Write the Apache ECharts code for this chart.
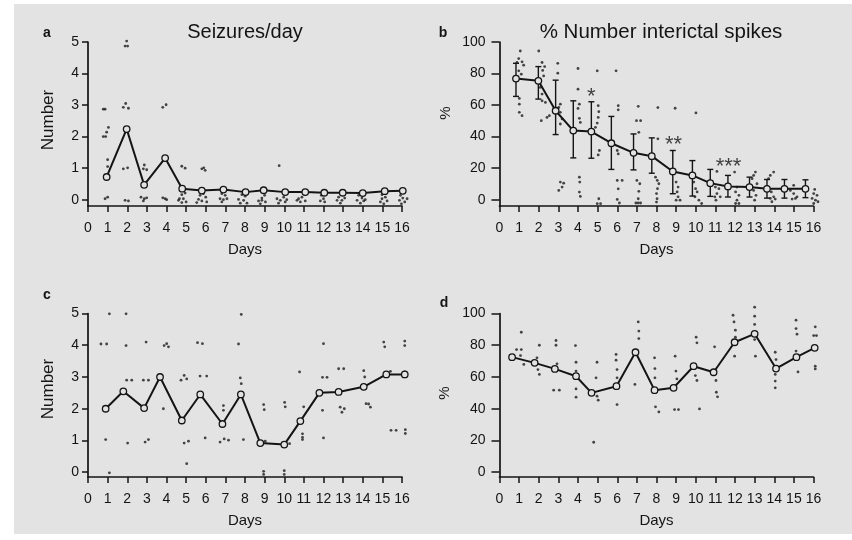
<!DOCTYPE html>
<html>
<head>
<meta charset="utf-8">
<script src="https://cdn.jsdelivr.net/npm/echarts@6/dist/echarts.min.js"></script>
<style>
  html, body { margin: 0; padding: 0; background: #fff; }
  #wrap { position: relative; width: 852px; height: 540px; }
  #paper { position: absolute; left: 14px; top: 4px; width: 838px; height: 530px; background: #e3e3e3; }
  #chart { position: absolute; left: 0; top: 0; width: 852px; height: 540px; }
</style>
</head>
<body>
<div id="wrap">
<div id="paper"></div>
<div id="chart"></div>
</div>
<script>
// y ticks
const numberTicks = [0, 1, 2, 3, 4, 5]
const percentTicks = [0, 20, 40, 60, 80, 100]

// a: seizures/day
const meanDaysA = [0.95, 1.97, 2.86, 3.93, 4.8, 5.8, 6.9, 8.03, 8.95, 10.05, 11.07, 12.04, 12.98, 14.0, 15.12, 16.04]
const meanA = [0.72, 2.24, 0.47, 1.32, 0.35, 0.29, 0.32, 0.24, 0.3, 0.24, 0.24, 0.22, 0.22, 0.21, 0.27, 0.28]
const dotsA = [
    [1.89, 4.87], [2.02, 4.87], [1.97, 5.03], [0.78, 2.87], [0.87, 2.87],
    [1.8, 2.93], [2.06, 2.9], [1.92, 3.05], [3.81, 2.93], [3.98, 3.01],
    [1.04, 2.29], [0.95, 2.14], [0.78, 2.0], [0.9, 2.0], [1.0, 1.27], [1.0, 1.05],
    [1.8, 0.98], [2.02, 1.01], [2.87, 1.1], [2.99, 0.95], [2.82, 0.98],
    [4.78, 1.06], [4.95, 1.0], [5.8, 0.98], [5.97, 0.93], [5.9, 1.01], [9.74, 1.08],
    [0.87, 0.03], [1.0, 0.08], [1.89, -0.02], [2.06, -0.04],
    [2.7, 0.08], [2.87, 0.03], [2.99, 0.06], [2.82, -0.04],
    [3.81, 0.06], [3.93, 0.03], [4.01, 0.0],
    [4.78, 0.16], [4.95, 0.21], [4.66, 0.03], [4.86, 0.03], [5.0, -0.07], [4.78, -0.09], [4.61, -0.02],
    [5.71, 0.14], [5.88, 0.19], [6.0, 0.08], [5.63, 0.01], [5.8, -0.04], [6.05, -0.07], [5.54, -0.09],
    [6.82, 0.19], [6.99, 0.14], [6.73, 0.03], [6.9, 0.0], [7.08, 0.03], [6.82, -0.07],
    [7.84, 0.16], [8.01, 0.11], [7.67, 0.01], [7.93, -0.02], [7.76, -0.11], [8.1, -0.11],
    [8.69, -0.04], [8.86, 0.05], [9.0, 0.14], [8.78, -0.13], [9.04, -0.07], [8.86, -0.02],
    [9.63, 0.03], [9.8, -0.02], [9.97, 0.08], [10.05, -0.07], [9.71, -0.11], [10.13, 0.0],
    [10.73, 0.03], [10.9, 0.08], [11.04, 0.16], [10.82, -0.07], [11.07, -0.04], [10.65, -0.02],
    [11.89, 0.14], [12.0, 0.03], [11.84, -0.04], [12.06, -0.07],
    [12.77, 0.08], [12.98, 0.16], [12.69, -0.02], [12.94, -0.02], [12.86, -0.11], [13.08, 0.05],
    [13.79, 0.14], [13.96, 0.05], [13.71, -0.02], [14.05, -0.04], [13.88, -0.11], [14.13, 0.0],
    [14.98, 0.03], [15.15, 0.08], [14.9, -0.07], [15.24, -0.04], [15.07, -0.13], [14.98, 0.16],
    [15.87, -0.02], [16.04, 0.05], [16.26, 0.03], [15.92, 0.14], [16.14, -0.07], [15.97, -0.13]
]

// b: % number interictal spikes (mean, error bar ends)
const meanDaysB = [0.84, 1.98, 2.86, 3.76, 4.68, 5.7, 6.83, 7.76, 8.83, 9.83, 10.74, 11.64, 12.74, 13.63, 14.52, 15.59]
const meanB = [76.8, 75.4, 56.4, 43.8, 43.2, 35.8, 29.7, 27.6, 17.9, 15.4, 10.5, 8.4, 8, 6.9, 6.9, 6.9]
const errHighB = [86.5, 84.4, 75.8, 62.7, 62.1, 52.8, 41.7, 39.2, 31.2, 24.8, 19.2, 15.4, 14.3, 12.8, 12.8, 12.6]
const errLowB = [65.5, 63.8, 41.3, 26.5, 26.3, 19.2, 18.9, 16.8, 3.8, 2.3, 2.1, 1.7, 1.7, 1, 1, 1.3]
const starDays = [4.68, 8.87, 11.67]
const starValues = [68, 37.5, 23.6]
const starText = ['*', '**', '***']
const dotsB = [
    [1.06, 94.3], [0.98, 89.5], [1.15, 87.4], [1.23, 85.3], [0.89, 87], [1.11, 79.6], [0.98, 81.7],
    [1.01, 64.2], [1.01, 60.6], [1.01, 55.4], [1.15, 53.3],
    [2.0, 94.3], [2.17, 87], [2.3, 84.4], [2.2, 82], [2.25, 78.5], [2.08, 71.2], [2.17, 67],
    [2.17, 62.7], [2.34, 61.7], [2.13, 50.1], [2.42, 52.2], [2.54, 53.3],
    [2.97, 86.5], [2.97, 80.2], [3.1, 60.6], [3.02, 58.5], [3.1, 55.4], [3.19, 51.2], [3.1, 48],
    [3.1, 11.2], [3.27, 10.5], [3.02, 5.9], [3.19, 8],
    [4.0, 83.2], [4.0, 70.1], [4.07, 60.6], [4.0, 57.9], [4.07, 51.6], [4.12, 49],
    [4.07, 14.3], [4.09, 11.2], [4.07, 4.8], [4.12, 2.1],
    [4.98, 81.7], [5.03, 59.6], [5.06, 55.8], [5.03, 52.2], [4.98, 48.6], [4.89, 45.9],
    [5.09, 31.2], [5.03, 28.4], [5.06, 0.6], [4.98, -2.5], [5.15, -2.5],
    [5.94, 81.7], [6.05, 59.6], [6.05, 57], [6.0, 31.2], [6.05, 29], [6.0, 12.2], [6.25, 12.2],
    [6.05, 6.9], [6.0, 0.2], [6.11, -2.1],
    [7.07, 59.2], [6.98, 50.1], [7.19, 50.1], [7.1, 42.7], [7.0, 12.2], [7.15, 10.1], [7.1, 5.3],
    [7.07, 0.6], [6.95, -2.1], [7.07, -2.1], [7.19, -2.1],
    [8.07, 58.4], [8.07, 38.6], [7.95, 14.3], [8.04, 12.2], [8.12, 10.1], [8.05, 7], [8.0, 3.9],
    [8.03, 0.6], [8.0, -1.5],
    [8.95, 58], [9.0, 11.2], [9.1, 8], [9.05, 4.9], [9.1, 1.8], [9.0, -0.3], [9.2, -0.3],
    [10.01, 55], [9.9, 11.2], [9.99, 7], [10.07, 4.9], [9.96, 1.8], [10.16, -0.3], [10.3, -2.4],
    [11.08, 17.9], [11.0, 8], [11.18, 7], [11.08, 3.9], [10.97, 1.8], [11.25, 1.8], [11.03, -0.3],
    [11.98, 17.5], [12.1, 8], [12.03, 4.9], [12.2, 2.8], [12.1, -0.3], [12.03, -2.4], [12.2, -2.4],
    [13.04, 17.5], [12.95, 15.4], [12.87, 13.3], [13.12, 10.1], [12.95, 5.9], [13.07, 2.8], [13.0, -0.3],
    [13.97, 17.5], [13.8, 15.4], [13.71, 13.3], [13.85, 4.9], [13.97, 1.8], [13.8, 0.8], [14.05, 0.4], [13.88, -1.3],
    [14.99, 9.1], [14.82, 5.9], [14.99, 3.9], [15.08, 0.8], [14.91, 0.4], [15.16, 1.8],
    [16.06, 6.5], [16.01, 3.9], [16.18, 2.8], [15.93, 0.8], [16.1, -0.3], [16.23, -1.3], [16.01, -2.4]
]

// c: number
const meanDaysC = [0.9, 1.8, 2.86, 3.67, 4.78, 5.72, 6.85, 7.79, 8.78, 10.0, 10.82, 11.79, 12.77, 14.05, 15.2, 16.14]
const meanC = [2.0, 2.55, 2.02, 3.0, 1.63, 2.45, 1.52, 2.45, 0.92, 0.87, 1.61, 2.5, 2.53, 2.69, 3.08, 3.08]
const dotsC = [
    [1.09, 4.99], [1.94, 4.99], [0.66, 4.04], [0.95, 4.04], [1.94, 3.99], [2.96, 4.1], [3.88, 3.99],
    [4.01, 4.05], [4.1, 3.95], [1.97, 2.9], [2.23, 2.9], [2.82, 2.9], [3.08, 2.9], [3.76, 3.03],
    [3.84, 2.0], [4.74, 2.9], [4.9, 3.05], [5.03, 2.94], [5.58, 4.08], [5.83, 4.05], [5.71, 3.03],
    [6.05, 3.03], [0.9, 1.03], [2.02, 0.92], [2.91, 0.95], [3.08, 1.03], [4.9, 0.92], [5.12, 0.98],
    [5.03, 0.27], [1.09, -0.02], [5.97, 1.08], [6.73, 0.95], [6.94, 1.05], [7.16, 1.01], [6.9, 2.1],
    [6.9, 1.95], [7.67, 4.04], [7.81, 4.97], [7.76, 2.97], [7.81, 2.79], [7.92, 1.03],
    [8.95, 2.13], [8.98, 1.97], [10.02, 2.2], [10.05, 2.06], [10.78, 3.16], [10.99, 2.06],
    [10.93, 1.21], [10.93, 1.1], [10.93, 1.03], [12.0, 4.05], [11.95, 2.99], [12.18, 2.99],
    [11.95, 1.95], [12.0, 1.08], [12.77, 3.26], [13.03, 3.26], [12.85, 2.05], [13.06, 2.0],
    [12.94, 1.89], [14.05, 3.2], [14.1, 3.0], [14.17, 2.16], [14.3, 2.15], [14.39, 2.05],
    [15.07, 4.1], [15.12, 3.95], [15.41, 3.18], [15.44, 1.32], [15.7, 1.32], [16.14, 4.13],
    [16.14, 3.99], [16.14, 3.16], [16.17, 1.34], [16.17, 1.22], [8.95, 0.03], [8.95, -0.07],
    [10.0, 0.05], [10.0, -0.07], [9.03, 0.98], [10.27, 0.9]
]

// d: percent
const meanDaysD = [0.64, 1.79, 2.82, 3.9, 4.69, 5.96, 6.93, 7.9, 8.87, 9.89, 10.91, 11.98, 13.0, 14.09, 15.13, 16.06]
const meanD = [72.5, 68.9, 65.1, 60.5, 50, 54.2, 75.6, 51.7, 53.2, 66.8, 63, 81.9, 87.2, 65.3, 72.5, 78.4]
const dotsD = [
    [1.11, 88.2], [0.87, 77.3], [1.11, 77.3], [1.07, 73.5], [1.24, 67.9], [2.03, 80], [1.91, 72.1],
    [1.96, 64.7], [2.03, 61.6], [2.88, 83], [2.88, 80], [2.93, 68.3], [2.76, 51.7], [3.05, 51.7],
    [3.87, 79.8], [3.9, 69.3], [3.9, 63.7], [3.9, 52.5], [3.9, 47.3], [4.97, 69.3], [4.92, 59.5],
    [4.97, 47.9], [5.03, 45.4], [4.8, 18.9], [5.94, 74.2], [5.94, 70.6], [5.99, 64.7], [5.99, 59.5],
    [5.99, 42.6], [7.07, 94.7], [7.1, 88.9], [7.1, 84.2], [6.9, 55.3], [7.9, 72.1], [7.92, 65.3],
    [7.92, 59.5], [7.95, 41.2], [8.12, 38], [8.95, 73.1], [8.99, 63.7], [9.04, 58.8], [8.92, 39.5],
    [9.12, 39.5], [10.02, 85.1], [10.06, 81.5], [9.98, 60.9], [10.06, 57.8], [10.19, 39.9],
    [10.96, 79], [11.03, 57.8], [11.05, 50.4], [11.11, 47.5], [11.9, 98.9], [11.95, 94.7],
    [12.02, 89.5], [12.02, 85.1], [11.98, 73.1], [13.0, 104], [13.0, 98.3], [13.0, 93.1],
    [13.0, 83.6], [13.04, 73.1], [14.05, 75.6], [14.09, 71], [14.05, 61.6], [14.05, 57.4],
    [14.05, 53.2], [15.11, 95.8], [15.11, 90.5], [15.16, 87], [15.11, 76.3], [15.21, 63.2],
    [16.09, 91.6], [16.01, 86.1], [16.15, 86.1], [16.09, 79.4], [16.09, 66.8], [16.09, 65.1]
]

const ink = '#141414'
const bg = '#e3e3e3'
const font = "'Liberation Sans', Arial, sans-serif"

function zip(xs, ys) {
    return xs.map((x, i) => [x, ys[i]])
}

function xAxisFor(idx) {
    return {
        gridIndex: idx, type: 'value', min: 0, max: 16, interval: 1,
        name: 'Days', nameLocation: 'middle', nameGap: 36,
        nameTextStyle: { color: ink, fontSize: 15, fontFamily: font },
        axisLine: { show: true, onZero: false, lineStyle: { color: ink, width: 1.7 } },
        axisTick: { show: true, length: 6, lineStyle: { color: ink, width: 1.5 } },
        axisLabel: { color: ink, fontSize: 14, fontFamily: font, margin: 15 },
        splitLine: { show: false }
    }
}

function yAxisFor(idx, min, max, ticks, tickLen, gap) {
    return {
        gridIndex: idx, type: 'value', min: min, max: max,
        axisLine: { show: true, onZero: false, lineStyle: { color: ink, width: 1.7 } },
        axisTick: { show: true, length: tickLen, lineStyle: { color: ink, width: 1.5 }, customValues: ticks },
        axisLabel: { color: ink, fontSize: 14, fontFamily: font, margin: gap, customValues: ticks },
        splitLine: { show: false }
    }
}

function meanSeries(idx, days, vals) {
    return {
        type: 'line', xAxisIndex: idx, yAxisIndex: idx, clip: false, z: 4,
        data: zip(days, vals),
        lineStyle: { color: ink, width: 2 },
        symbol: 'circle', symbolSize: 6.5,
        itemStyle: { color: bg, borderColor: ink, borderWidth: 1.3 }
    }
}

function dotSeries(idx, dots) {
    return {
        type: 'scatter', xAxisIndex: idx, yAxisIndex: idx, clip: false, z: 3,
        data: dots, symbolSize: 2.8,
        itemStyle: { color: '#1a1a1a' }
    }
}

function label(text, x, y, size, bold, rot) {
    return {
        type: 'text', x: x, y: y, rotation: rot || 0,
        style: {
            text: text, fill: ink, font: (bold ? 'bold ' : '') + size + 'px ' + font,
            textAlign: 'center', textVerticalAlign: 'middle'
        }
    }
}

const chart = echarts.init(document.getElementById('chart'))
const option = {
    backgroundColor: 'transparent',
    animation: false,
    graphic: [
        label('Seizures/day', 245, 32, 20, false),
        label('% Number interictal spikes', 661, 32, 20.5, false),
        label('a', 47, 33, 14, true),
        label('b', 443, 33, 14, true),
        label('c', 47, 295, 14, true),
        label('d', 444, 303, 14, true),
        label('Number', 48, 120, 17, false, Math.PI / 2),
        label('%', 446, 113, 15, false, Math.PI / 2),
        label('Number', 48, 389, 17, false, Math.PI / 2),
        label('%', 445, 393, 15, false, Math.PI / 2)
    ],
    grid: [
        { left: 88, top: 42, width: 314, height: 164 },
        { left: 499.5, top: 42, width: 314, height: 164 },
        { left: 88, top: 313.5, width: 314, height: 163.5 },
        { left: 499.5, top: 313.5, width: 314, height: 163.5 }
    ],
    xAxis: [xAxisFor(0), xAxisFor(1), xAxisFor(2), xAxisFor(3)],
    yAxis: [
        yAxisFor(0, -0.2, 5, numberTicks, 6, 9),
        yAxisFor(1, -4, 100, percentTicks, 8, 14),
        yAxisFor(2, -0.15, 5, numberTicks, 6, 9),
        yAxisFor(3, -3, 100, percentTicks, 8, 14)
    ],
    series: [
        dotSeries(0, dotsA), meanSeries(0, meanDaysA, meanA),
        dotSeries(1, dotsB), meanSeries(1, meanDaysB, meanB),
        {
            // error bars of panel b
            type: 'custom', xAxisIndex: 1, yAxisIndex: 1, z: 3,
            data: meanDaysB.map((d, i) => [d, errLowB[i], errHighB[i]]),
            renderItem: function (params, api) {
                const lo = api.coord([api.value(0), api.value(1)])
                const hi = api.coord([api.value(0), api.value(2)])
                const st = { stroke: ink, lineWidth: 1.4 }
                return {
                    type: 'group',
                    children: [
                        { type: 'line', shape: { x1: lo[0], y1: lo[1], x2: hi[0], y2: hi[1] }, style: st },
                        { type: 'line', shape: { x1: hi[0] - 3, y1: hi[1], x2: hi[0] + 3, y2: hi[1] }, style: st },
                        { type: 'line', shape: { x1: lo[0] - 3, y1: lo[1], x2: lo[0] + 3, y2: lo[1] }, style: st }
                    ]
                }
            }
        },
        {
            type: 'scatter', xAxisIndex: 1, yAxisIndex: 1, z: 5,
            data: starDays.map((d, i) => [d, starValues[i], starText[i]]),
            symbolSize: 0,
            label: {
                show: true, position: 'inside', offset: [0, 4],
                formatter: p => p.value[2],
                color: ink, fontSize: 22, fontFamily: font
            }
        },
        dotSeries(2, dotsC), meanSeries(2, meanDaysC, meanC),
        dotSeries(3, dotsD), meanSeries(3, meanDaysD, meanD)
    ]
}
chart.setOption(option)
</script>
</body>
</html>
